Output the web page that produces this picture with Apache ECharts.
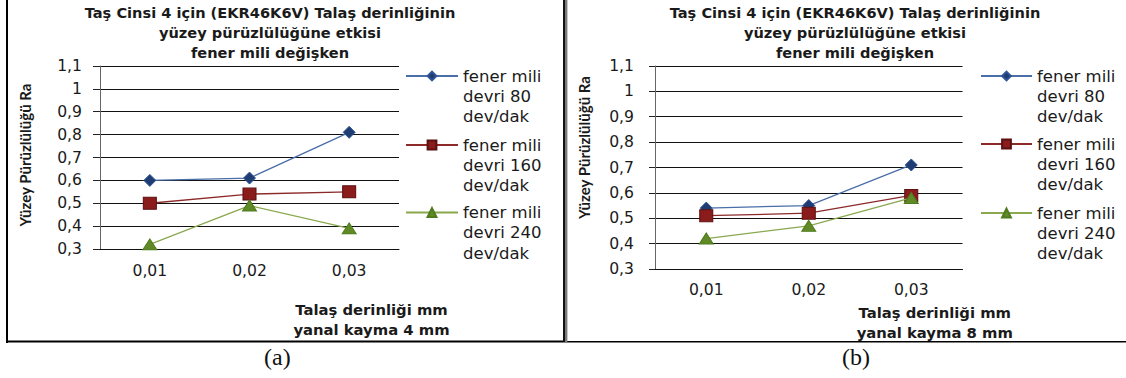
<!DOCTYPE html>
<html>
<head>
<meta charset="utf-8">
<script src="https://cdn.jsdelivr.net/npm/echarts@6/dist/echarts.min.js"></script>
<style>
html,body{margin:0;padding:0;background:#fff;}
#chart{width:1126px;height:378px;}
</style>
</head>
<body>
<div id="chart"></div>
<script>
// ---- data ----
const categories = ['0,01', '0,02', '0,03'];
const yTickLabels = ['0,3', '0,4', '0,5', '0,6', '0,7', '0,8', '0,9', '1', '1,1'];
const seriesNames = ['fener mili\ndevri 80\ndev/dak', 'fener mili\ndevri 160\ndev/dak', 'fener mili\ndevri 240\ndev/dak'];
const ra4_80 = [0.60, 0.61, 0.81];
const ra4_160 = [0.50, 0.54, 0.55];
const ra4_240 = [0.32, 0.49, 0.39];
const ra8_80 = [0.54, 0.55, 0.71];
const ra8_160 = [0.51, 0.52, 0.59];
const ra8_240 = [0.42, 0.47, 0.58];
const titleText = 'Taş Cinsi 4 için (EKR46K6V) Talaş derinliğinin\nyüzey pürüzlülüğüne etkisi\nfener mili değişken';
const yName = 'Yüzey Pürüzlülüğü Ra';
const xNames = ['Talaş derinliği mm\nyanal kayma 4 mm', 'Talaş derinliği mm\nyanal kayma 8 mm'];
const captions = ['(a)', '(b)'];

// ---- styles ----
const SANS = 'DejaVu Sans';
const TXT = '#1a1a1a';
const styles = [
  { line: '#4a6ea8', fill: '#1f3d73', border: '#2f5597', symbol: 'diamond', size: [12, 12] },
  { line: '#8c2a2a', fill: '#8b1c1c', border: '#5c1010', symbol: 'rect', size: [13, 12] },
  { line: '#8aa84e', fill: '#5f8a25', border: '#4f7a1e', symbol: 'triangle', size: [14, 11] }
];
const LH = 20.3;

const panels = [
  { grid: { left: 100, top: 66, width: 299, height: 183 }, titleX: 270, yLabelMargin: 18, tickLen: 7,
    yNameGap: 66, yNamePad: [0, 0, 0, 5], xLabelMargin: 14, xNameGap: 50, xNamePad: [0, 0, 0, 244],
    legendLeft: 405, legendW: 52, legendY: [76, 145, 212.5], data: [ra4_80, ra4_160, ra4_240] },
  { grid: { left: 655, top: 66, width: 307.5, height: 203 }, titleX: 855, yLabelMargin: 21, tickLen: 6,
    yNameGap: 62, yNamePad: [0, 0, 0, 40], xLabelMargin: 13, xNameGap: 29, xNamePad: [0, 0, 0, 252],
    legendLeft: 980, legendW: 51, legendY: [76, 144, 213], data: [ra8_80, ra8_160, ra8_240] }
];

const option = {
  animation: false,
  backgroundColor: '#fff',
  title: [], grid: [], xAxis: [], yAxis: [], series: [], legend: [],
  graphic: []
};

panels.forEach((p, pi) => {
  option.title.push({
    text: titleText, left: p.titleX, top: 2, padding: 0, textAlign: 'center',
    textStyle: { fontFamily: SANS, fontWeight: 'bold', fontSize: 14.6, lineHeight: 20, color: TXT }
  });
  option.grid.push(Object.assign({ containLabel: false }, p.grid));
  option.xAxis.push({
    type: 'category', gridIndex: pi, data: categories, boundaryGap: true,
    axisLine: { show: true, lineStyle: { color: '#111', width: 1 } },
    axisTick: { show: false },
    axisLabel: { margin: p.xLabelMargin, fontFamily: SANS, fontSize: 15.6, color: TXT },
    splitLine: { show: false },
    name: xNames[pi], nameLocation: 'middle', nameGap: p.xNameGap,
    nameTextStyle: { fontFamily: SANS, fontWeight: 'bold', fontSize: 14.8, lineHeight: 20, color: TXT, padding: p.xNamePad }
  });
  option.yAxis.push({
    type: 'value', gridIndex: pi, min: 0.3, max: 1.1, interval: 0.1,
    axisLine: { show: true, lineStyle: { color: '#666', width: 1 } },
    axisTick: { show: true, inside: false, length: p.tickLen, lineStyle: { color: '#222' } },
    axisLabel: {
      margin: p.yLabelMargin, fontFamily: SANS, fontSize: 15.6, color: TXT,
      formatter: v => yTickLabels[Math.round((v - 0.3) * 10)]
    },
    splitLine: { show: true, lineStyle: { color: '#111', width: 1 } },
    name: yName, nameLocation: 'middle', nameGap: p.yNameGap,
    nameTextStyle: { fontFamily: 'Lato', fontWeight: 'bold', fontSize: 15, lineHeight: 18, color: TXT, padding: p.yNamePad }
  });
  p.data.forEach((vals, si) => {
    const s = styles[si];
    option.series.push({
      type: 'line', name: seriesNames[si], xAxisIndex: pi, yAxisIndex: pi, data: vals,
      symbol: s.symbol, symbolSize: s.size, showSymbol: true,
      lineStyle: { color: s.line, width: 1.3 },
      itemStyle: { color: s.fill, borderColor: s.border, borderWidth: 1 },
      z: 3 + si
    });
    // two leading blank lines put the first text line level with the legend icon
    option.legend.push({
      orient: 'vertical', left: p.legendLeft, top: p.legendY[si] - 2.5 * LH, padding: 0,
      itemWidth: p.legendW, itemHeight: 11, itemGap: 0, selectedMode: false,
      data: [seriesNames[si]],
      formatter: name => '\n\n' + name,
      textStyle: { fontFamily: SANS, fontSize: 16.5, lineHeight: LH, color: TXT,
        backgroundColor: 'rgba(255,255,255,0)' }
    });
  });
});

// frame lines and captions
option.graphic = [
  { type: 'rect', shape: { x: 6, y: 0, width: 2, height: 343 }, style: { fill: '#000' }, silent: true },
  { type: 'rect', shape: { x: 6, y: 340.5, width: 559, height: 2 }, style: { fill: '#000' }, silent: true },
  { type: 'rect', shape: { x: 565, y: 341, width: 561, height: 1.5 }, style: { fill: '#000' }, silent: true },
  { type: 'rect', shape: { x: 563, y: 0, width: 2, height: 342 }, style: { fill: '#111' }, silent: true },
  { type: 'rect', shape: { x: 565, y: 0, width: 2.4, height: 342 }, style: { fill: '#7a7a7a' }, silent: true },
  { type: 'text', left: 264, top: 345, style: { text: captions[0], font: '24px "Liberation Serif"', fill: '#111' } },
  { type: 'text', left: 842, top: 345, style: { text: captions[1], font: '24px "Liberation Serif"', fill: '#111' } }
];

const chart = echarts.init(document.getElementById('chart'), null, { renderer: 'svg' });
chart.setOption(option);
</script>
</body>
</html>
